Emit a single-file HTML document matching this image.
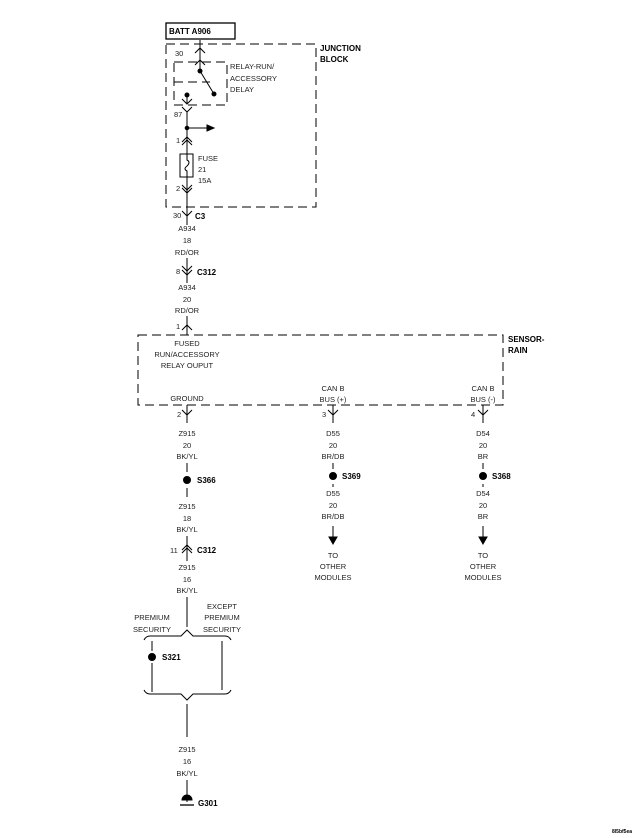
<!DOCTYPE html>
<html><head><meta charset="utf-8"><style>
html,body{margin:0;padding:0;background:#fff;}
svg{display:block;}
text{font-family:"Liberation Sans",sans-serif;font-size:7.5px;fill:#222;}
.b{font-weight:bold;font-size:8px;fill:#000;}
.c{text-anchor:middle;}
</style></head><body>
<svg width="640" height="838" viewBox="0 0 640 838" xmlns="http://www.w3.org/2000/svg" stroke="#000" fill="none" stroke-width="1">
<!-- BATT -->
<rect x="166" y="23" width="69" height="16" stroke-width="1.3"/>
<text x="169" y="34" class="b" stroke="none">BATT A906</text>
<!-- Junction block -->
<rect x="166" y="44" width="150" height="163" stroke-dasharray="9,5"/>
<text x="320" y="51" class="b" stroke="none">JUNCTION</text>
<text x="320" y="62" class="b" stroke="none">BLOCK</text>
<!-- 30 connector -->
<path d="M200 40 V71 M195 53 L200 48 L205 53"/>
<text x="175" y="56" stroke="none">30</text>
<!-- relay -->
<rect x="174" y="62" width="53" height="43" stroke-dasharray="9,5"/>
<path d="M195 65 L200 60 L205 65"/>
<path d="M174 82 H210" stroke-dasharray="9,5"/>
<circle cx="200" cy="71" r="2" fill="#000"/>
<path d="M200 71 L214 94"/>
<circle cx="214" cy="94" r="2" fill="#000"/>
<circle cx="187" cy="95" r="2" fill="#000"/>
<path d="M187 95 V104 M182 99 L187 104 L192 99"/>
<text x="230" y="69" stroke="none">RELAY-RUN/</text>
<text x="230" y="81" stroke="none">ACCESSORY</text>
<text x="230" y="92" stroke="none">DELAY</text>
<!-- 87 -->
<path d="M187 112 V207 M182 107 L187 112 L192 107"/>
<text x="174" y="117" stroke="none">87</text>
<circle cx="187" cy="128" r="1.8" fill="#000"/>
<path d="M187 128 H208"/>
<path d="M207 125 L214 128 L207 131 Z" fill="#000"/>
<path d="M182 142 L187 137 L192 142 M182 145 L187 140 L192 145"/>
<text x="176" y="143" stroke="none">1</text>
<rect x="180" y="154" width="13" height="23" fill="#fff"/>
<path d="M187 154 V160 Q191 162 187 166 Q183 169 187 171 V177"/>
<text x="198" y="161" stroke="none">FUSE</text>
<text x="198" y="172" stroke="none">21</text>
<text x="198" y="183" stroke="none">15A</text>
<path d="M182 185 L187 190 L192 185 M182 188 L187 193 L192 188"/>
<text x="176" y="191" stroke="none">2</text>
<!-- C3 -->
<path d="M187 207 V225 M182 211 L187 216 L192 211"/>
<text x="173" y="218" stroke="none">30</text>
<text x="195" y="219" class="b" stroke="none">C3</text>
<text x="187" y="231" class="c" stroke="none">A934</text>
<text x="187" y="243" class="c" stroke="none">18</text>
<text x="187" y="255" class="c" stroke="none">RD/OR</text>
<path d="M187 258 V283 M182 266 L187 271 L192 266 M182 270 L187 275 L192 270"/>
<text x="176" y="274" stroke="none">8</text>
<text x="197" y="275" class="b" stroke="none">C312</text>
<text x="187" y="290" class="c" stroke="none">A934</text>
<text x="187" y="302" class="c" stroke="none">20</text>
<text x="187" y="313" class="c" stroke="none">RD/OR</text>
<path d="M187 316 V335 M182 330 L187 325 L192 330"/>
<text x="176" y="329" stroke="none">1</text>
<!-- Sensor -->
<rect x="138" y="335" width="365" height="70" stroke-dasharray="9,5"/>
<text x="508" y="342" class="b" stroke="none">SENSOR-</text>
<text x="508" y="353" class="b" stroke="none">RAIN</text>
<text x="187" y="346" class="c" stroke="none">FUSED</text>
<text x="187" y="357" class="c" stroke="none">RUN/ACCESSORY</text>
<text x="187" y="368" class="c" stroke="none">RELAY OUPUT</text>
<text x="187" y="401" class="c" stroke="none">GROUND</text>
<text x="333" y="391" class="c" stroke="none">CAN B</text>
<text x="333" y="402" class="c" stroke="none">BUS (+)</text>
<text x="483" y="391" class="c" stroke="none">CAN B</text>
<text x="483" y="402" class="c" stroke="none">BUS (-)</text>
<!-- col1 -->
<path d="M187 405 V423 M182 410 L187 415 L192 410"/>
<text x="177" y="417" stroke="none">2</text>
<text x="187" y="436" class="c" stroke="none">Z915</text>
<text x="187" y="448" class="c" stroke="none">20</text>
<text x="187" y="459" class="c" stroke="none">BK/YL</text>
<path d="M187 463 V472 M187 488 V497"/>
<circle cx="187" cy="480" r="3.5" fill="#000"/>
<text x="197" y="483" class="b" stroke="none">S366</text>
<text x="187" y="509" class="c" stroke="none">Z915</text>
<text x="187" y="521" class="c" stroke="none">18</text>
<text x="187" y="532" class="c" stroke="none">BK/YL</text>
<path d="M187 536 V561 M182 550 L187 545 L192 550 M182 553 L187 548 L192 553"/>
<text x="170" y="553" stroke="none">11</text>
<text x="197" y="553" class="b" stroke="none">C312</text>
<text x="187" y="570" class="c" stroke="none">Z915</text>
<text x="187" y="582" class="c" stroke="none">16</text>
<text x="187" y="593" class="c" stroke="none">BK/YL</text>
<path d="M187 597 V627"/>
<text x="152" y="620" class="c" stroke="none">PREMIUM</text>
<text x="152" y="632" class="c" stroke="none">SECURITY</text>
<text x="222" y="609" class="c" stroke="none">EXCEPT</text>
<text x="222" y="620" class="c" stroke="none">PREMIUM</text>
<text x="222" y="632" class="c" stroke="none">SECURITY</text>
<path d="M144 640 Q146 636 150 636 H181 L187 630 L193 636 H225 Q229 636 231 640"/>
<path d="M152 641 V651 M152 663 V692 M222 641 V690"/>
<circle cx="152" cy="657" r="3.5" fill="#000"/>
<text x="162" y="660" class="b" stroke="none">S321</text>
<path d="M144 690 Q146 694 150 694 H181 L187 700 L193 694 H225 Q229 694 231 690"/>
<path d="M187 704 V737"/>
<text x="187" y="752" class="c" stroke="none">Z915</text>
<text x="187" y="764" class="c" stroke="none">16</text>
<text x="187" y="776" class="c" stroke="none">BK/YL</text>
<path d="M187 780 V802"/>
<path d="M182 800 A5 5 0 0 1 192 800 Z" fill="#000"/>
<path d="M180 805 H194" stroke-width="1.3"/>
<text x="198" y="806" class="b" stroke="none">G301</text>
<!-- col2 -->
<path d="M333 405 V423 M328 410 L333 415 L338 410"/>
<text x="322" y="417" stroke="none">3</text>
<text x="333" y="436" class="c" stroke="none">D55</text>
<text x="333" y="448" class="c" stroke="none">20</text>
<text x="333" y="459" class="c" stroke="none">BR/DB</text>
<path d="M333 463 V469 M333 484 V487"/>
<circle cx="333" cy="476" r="3.5" fill="#000"/>
<text x="342" y="479" class="b" stroke="none">S369</text>
<text x="333" y="496" class="c" stroke="none">D55</text>
<text x="333" y="508" class="c" stroke="none">20</text>
<text x="333" y="519" class="c" stroke="none">BR/DB</text>
<path d="M333 526 V538"/>
<path d="M329 537 L333 544 L337 537 Z" fill="#000"/>
<text x="333" y="558" class="c" stroke="none">TO</text>
<text x="333" y="569" class="c" stroke="none">OTHER</text>
<text x="333" y="580" class="c" stroke="none">MODULES</text>
<!-- col3 -->
<path d="M483 405 V423 M478 410 L483 415 L488 410"/>
<text x="471" y="417" stroke="none">4</text>
<text x="483" y="436" class="c" stroke="none">D54</text>
<text x="483" y="448" class="c" stroke="none">20</text>
<text x="483" y="459" class="c" stroke="none">BR</text>
<path d="M483 463 V469 M483 484 V487"/>
<circle cx="483" cy="476" r="3.5" fill="#000"/>
<text x="492" y="479" class="b" stroke="none">S368</text>
<text x="483" y="496" class="c" stroke="none">D54</text>
<text x="483" y="508" class="c" stroke="none">20</text>
<text x="483" y="519" class="c" stroke="none">BR</text>
<path d="M483 526 V538"/>
<path d="M479 537 L483 544 L487 537 Z" fill="#000"/>
<text x="483" y="558" class="c" stroke="none">TO</text>
<text x="483" y="569" class="c" stroke="none">OTHER</text>
<text x="483" y="580" class="c" stroke="none">MODULES</text>
<text x="612" y="833" class="b" stroke="none" style="font-size:5px">8l5bf5ea</text>
</svg>
</body></html>
